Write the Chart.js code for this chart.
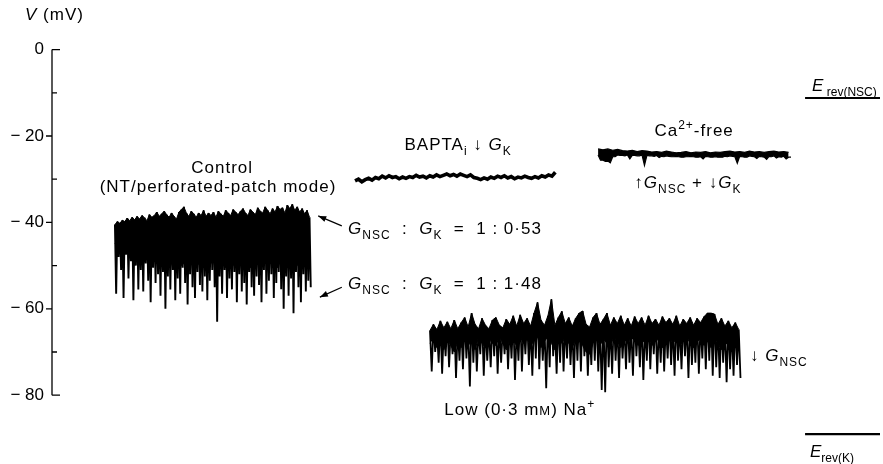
<!DOCTYPE html>
<html>
<head>
<meta charset="utf-8">
<title>Membrane potential traces</title>
<script src="https://cdn.jsdelivr.net/npm/chart.js@4.4.1/dist/chart.umd.min.js"></script>
<style>
    html, body { margin: 0; padding: 0; background: #fff; }
    #wrap { position: relative; width: 883px; height: 464px; }
</style>
</head>
<body>
<div id="wrap"><canvas id="trace-chart"></canvas></div>
<script>
// Voltage axis (mV)
const yTicks = [0, -10, -20, -30, -40, -50, -60, -70, -80];
const yLabels = ['0', '', '\u2212 20', '', '\u2212 40', '', '\u2212 60', '', '\u2212 80'];

// Control (NT / perforated-patch mode): peaks, bottom of the solid band, spike troughs (mV)
const ctrlStart = 15.2, ctrlStep = 0.595;
const ctrlTop = [-40.5, -39.8, -40.2, -39.5, -39.8, -39.0, -39.6, -38.8, -39.4, -38.6,
    -39.2, -38.4, -38.9, -39.6, -38.2, -38.8, -38.4, -37.6, -38.6, -38.0,
    -37.4, -38.2, -38.8, -37.8, -38.6, -39.2, -37.6, -37.0, -36.4, -37.8,
    -38.6, -37.4, -38.0, -38.8, -37.8, -38.4, -37.2, -38.6, -37.8, -38.4,
    -37.6, -38.8, -37.4, -38.0, -38.6, -37.2, -37.8, -38.4, -37.0, -37.6,
    -38.2, -37.4, -36.8, -37.8, -38.4, -37.0, -37.6, -38.2, -36.6, -37.4,
    -37.8, -36.4, -37.2, -38.0, -36.8, -37.6, -36.2, -37.0, -36.6, -37.8,
    -36.0, -36.8, -35.8, -37.2, -36.4, -37.6, -36.8, -38.0, -37.2, -38.8];
const ctrlCore = [-45.0, -44.0, -46.5, -45.0, -47.0, -44.5, -46.0, -47.5, -45.5, -46.5,
    -48.0, -46.5, -49.0, -47.5, -48.5, -49.5, -47.0, -48.5, -50.0, -48.0,
    -49.0, -50.5, -48.5, -49.5, -51.0, -49.0, -48.0, -50.0, -49.5, -48.5,
    -50.0, -49.0, -48.5, -50.5, -49.5, -48.0, -49.0, -50.0, -48.5, -49.5,
    -48.5, -50.0, -49.0, -48.0, -49.5, -50.5, -49.0, -48.5, -50.0, -49.0,
    -48.0, -49.5, -50.0, -48.5, -49.0, -50.5, -49.5, -48.0, -49.0, -50.0,
    -49.5, -48.5, -50.0, -49.0, -48.0, -49.5, -50.5, -49.0, -48.5, -49.5,
    -48.5, -49.5, -48.0, -49.0, -50.0, -48.5, -49.0, -48.0, -49.5, -47.5];
const ctrlLow = [-56.5, -48.0, -51.0, -57.5, -47.5, -53.0, -49.0, -58.0, -50.0, -55.5,
    -51.0, -56.0, -49.5, -53.5, -58.5, -50.5, -54.0, -52.0, -57.0, -51.5,
    -60.0, -52.5, -55.5, -51.0, -58.0, -53.0, -56.5, -50.5, -54.0, -59.0,
    -52.0, -55.0, -57.5, -51.5, -54.5, -56.0, -52.5, -58.0, -53.5, -51.0,
    -55.0, -63.0, -52.5, -56.5, -51.0, -57.5, -53.0, -55.5, -51.5, -58.5,
    -52.0, -56.0, -54.0, -59.0, -51.5, -55.0, -57.0, -52.5, -54.5, -58.5,
    -51.0, -56.5, -53.5, -52.0, -57.5, -54.0, -51.5, -55.5, -60.0, -52.5,
    -57.0, -53.0, -61.0, -51.5, -55.0, -58.5, -52.0, -56.0, -53.5, -55.0];

// BAPTA-loaded cell (mV)
const baptaStart = 73.2, baptaStep = 0.82;
const bapta = [-30.4, -30.0, -30.6, -30.1, -29.8, -30.2, -29.6, -29.9, -29.3, -29.7,
    -29.2, -29.6, -29.4, -29.9, -29.5, -29.8, -29.4, -29.6, -29.1, -29.5,
    -29.3, -29.7, -29.2, -29.5, -29.0, -29.4, -29.1, -28.8, -29.2, -28.9,
    -29.3, -28.8, -29.1, -29.4, -29.0, -29.6, -29.8, -30.1, -29.7, -30.0,
    -29.5, -29.8, -29.3, -29.6, -29.2, -29.7, -29.4, -29.9, -29.5, -29.7,
    -29.3, -29.6, -29.8, -29.4, -29.7, -29.2, -29.5, -29.0, -29.3, -28.4];

// Ca2+-free bath: top of the trace, bottom of the band, and dips between samples (mV)
const caStart = 131.9, caStep = 1.18;
const caTop = [-23.0, -23.2, -23.0, -23.3, -23.1, -23.4, -23.5, -23.3, -23.6, -23.4,
    -23.5, -23.7, -23.6, -23.8, -23.5, -23.7, -23.9, -23.8, -23.6, -23.9,
    -23.7, -23.8, -23.6, -23.9, -23.7, -23.8, -23.6, -23.5, -23.7, -23.6,
    -23.8, -23.5, -23.7, -23.6, -23.8, -23.6, -23.5, -23.7, -23.6, -23.8];
const caBand = [-24.4, -25.6, -25.8, -24.8, -24.4, -24.5, -24.4, -24.5, -24.6, -24.4,
    -24.5, -24.6, -24.5, -24.7, -24.6, -24.8, -24.7, -24.9, -24.8, -24.7,
    -24.9, -24.8, -24.7, -24.9, -24.8, -24.9, -24.7, -24.6, -24.8, -24.7,
    -24.9, -24.6, -24.8, -24.7, -24.9, -24.7, -24.6, -24.8, -24.7, -24.9];
const caDip = [-25.6, -25.9, -26.2, -24.8, -24.5, -24.6, -25.3, -24.5, -24.6, -26.8,
    -24.6, -24.7, -25.0, -24.8, -24.7, -24.8, -24.8, -24.9, -24.8, -24.8,
    -24.9, -25.3, -24.8, -24.9, -24.9, -24.9, -24.8, -24.7, -26.3, -24.8,
    -24.9, -24.7, -25.2, -24.8, -25.4, -24.8, -25.1, -24.9, -25.3, -24.9];

// Low (0.3 mM) Na+ (mV)
const naStart = 91.3, naStep = 0.838;
const naTop = [-65.0, -63.6, -64.8, -62.8, -64.4, -63.0, -64.6, -62.6, -64.6, -63.2,
    -62.0, -64.2, -61.0, -63.6, -64.6, -62.2, -63.8, -64.6, -62.6, -62.0,
    -63.8, -64.4, -62.4, -63.6, -61.6, -64.0, -61.4, -63.4, -62.2, -64.0,
    -61.0, -58.5, -62.6, -63.8, -61.6, -57.8, -63.8, -62.0, -60.6, -63.4,
    -62.0, -64.0, -62.2, -61.0, -60.5, -63.6, -64.2, -62.0, -61.0, -63.6,
    -62.4, -61.0, -63.8, -62.0, -63.4, -61.6, -63.8, -62.2, -64.0, -61.8,
    -63.4, -62.0, -63.8, -61.6, -63.4, -62.4, -63.8, -61.8, -63.2, -62.2,
    -63.6, -61.6, -64.0, -62.4, -63.4, -62.0, -63.8, -62.2, -63.2, -61.8,
    -61.0, -61.0, -61.2, -63.6, -62.2, -64.0, -62.8, -64.4, -63.2, -64.8];
const naCore = [-68.0, -66.5, -69.0, -67.5, -69.5, -67.0, -68.5, -70.0, -67.5, -69.0,
    -67.0, -68.5, -67.5, -69.5, -66.5, -68.0, -69.0, -67.0, -68.0, -68.5,
    -66.5, -68.0, -69.5, -67.0, -67.5, -68.5, -66.5, -68.0, -67.0, -68.5,
    -67.5, -66.5, -69.0, -67.5, -66.5, -68.0, -69.5, -67.0, -68.0, -66.5,
    -68.0, -69.0, -67.0, -67.5, -68.5, -70.0, -70.5, -68.0, -67.0, -68.5,
    -67.0, -68.0, -68.5, -66.5, -67.5, -69.0, -67.0, -68.0, -66.5, -67.5,
    -68.5, -67.0, -68.0, -66.5, -68.5, -67.5, -67.0, -69.0, -67.5, -66.5,
    -68.0, -67.0, -68.5, -67.5, -66.5, -68.0, -69.0, -67.5, -67.0, -68.5,
    -67.5, -69.0, -66.5, -68.0, -69.5, -68.5, -67.5, -70.0, -68.5, -69.5];
const naLow = [-74.5, -70.0, -72.5, -75.0, -71.0, -73.5, -70.5, -76.0, -72.0, -74.0,
    -71.5, -78.0, -72.5, -74.5, -70.5, -75.5, -72.0, -73.5, -71.0, -75.0,
    -72.5, -70.5, -74.0, -71.5, -76.5, -72.0, -74.5, -70.5, -73.0, -75.5,
    -71.5, -74.0, -72.0, -78.4, -73.5, -71.0, -75.0, -72.5, -74.5, -71.5,
    -73.0, -76.0, -72.0, -74.5, -71.0, -75.5, -73.0, -72.0, -74.5, -78.8,
    -79.3, -73.5, -75.0, -72.0, -76.0, -71.5, -74.0, -72.5, -75.5, -71.0,
    -73.5, -76.5, -72.0, -74.0, -70.5, -75.0, -72.5, -74.5, -71.5, -73.0,
    -75.5, -72.0, -74.0, -71.0, -76.0, -73.0, -72.5, -75.0, -71.5, -74.0,
    -72.0, -75.5, -73.5, -76.0, -72.5, -77.0, -74.0, -75.5, -73.0, -76.0];

// Reversal potentials (mV) and the time span of their markers (s)
const eRevNsc = -11.2;
const eRevK = -89.0;
const eRevSpan = [181.9, 200];

const FONT = '"Liberation Sans", Arial, Helvetica, sans-serif';

// Points sampled at a fixed interval
function sampled(values, start, step) {
    return values.map((v, i) => ({ x: start + i * step, y: v }));
}

// Alternate each sample with the value reached half a step later
function zigzag(first, second, start, step) {
    const pts = [];
    first.forEach((v, i) => {
        pts.push({ x: start + i * step, y: v });
        pts.push({ x: start + (i + 0.5) * step, y: second[i] });
    });
    return pts;
}

function lineSet(data, width, extra) {
    return Object.assign({
        data: data,
        borderColor: '#000',
        backgroundColor: '#000',
        borderWidth: width,
        pointRadius: 0,
        tension: 0,
        fill: false,
    }, extra || {});
}

const datasets = [
    lineSet(sampled(ctrlTop, ctrlStart, ctrlStep), 1),
    lineSet(sampled(ctrlCore, ctrlStart, ctrlStep), 1, { fill: '-1' }),
    lineSet(zigzag(ctrlTop, ctrlLow, ctrlStart, ctrlStep), 1.9),
    lineSet(sampled(bapta, baptaStart, baptaStep), 3.6),
    lineSet(sampled(caTop, caStart, caStep), 1.2),
    lineSet(zigzag(caBand, caDip, caStart, caStep), 1.2, { fill: '-1' }),
    lineSet(sampled(naTop, naStart, naStep), 1),
    lineSet(sampled(naCore, naStart, naStep), 1, { fill: '-1' }),
    lineSet(zigzag(naTop, naLow, naStart, naStep), 1.8),
    lineSet([{ x: eRevSpan[0], y: eRevNsc }, { x: eRevSpan[1], y: eRevNsc }], 2.2),
    lineSet([{ x: eRevSpan[0], y: eRevK }, { x: eRevSpan[1], y: eRevK }], 2.2),
];

// Text runs: [text, style] where style is '', 'i' (italic), 'sub', 'sup' or 'sc' (small capital)
const notes = [
    { x: 41.1, y: -28.6, align: 'center', runs: [['Control', '']] },
    { x: 40.1, y: -33.0, align: 'center', runs: [['(NT/perforated-patch mode)', '']] },
    { x: 71.5, y: -42.7, align: 'left', runs: [['G', 'i'], ['NSC', 'sub'], ['  :  ', ''], ['G', 'i'], ['K', 'sub'], ['  =  1 : 0\u00b753', '']] },
    { x: 71.5, y: -55.4, align: 'left', runs: [['G', 'i'], ['NSC', 'sub'], ['  :  ', ''], ['G', 'i'], ['K', 'sub'], ['  =  1 : 1\u00b748', '']] },
    { x: 98.1, y: -23.2, align: 'center', runs: [['BAPTA', ''], ['i', 'sub'], [' \u2193 ', ''], ['G', 'i'], ['K', 'sub']] },
    { x: 155.1, y: -20.0, align: 'center', runs: [['Ca', ''], ['2+', 'sup'], ['-free', '']] },
    { x: 153.6, y: -32.0, align: 'center', runs: [['\u2191', ''], ['G', 'i'], ['NSC', 'sub'], [' + \u2193', ''], ['G', 'i'], ['K', 'sub']] },
    { x: 168.6, y: -72.1, align: 'left', runs: [['\u2193 ', ''], ['G', 'i'], ['NSC', 'sub']] },
    { x: 113.0, y: -84.6, align: 'center', runs: [['Low (0\u00b73 m', ''], ['M', 'sc'], [') Na', ''], ['+', 'sup']] },
    { x: 183.6, y: -9.6, align: 'left', tight: true, runs: [['E', 'i'], [' rev(NSC)', 'sub']] },
    { x: 183.1, y: -94.3, align: 'left', tight: true, runs: [['E', 'i'], ['rev(K)', 'sub']] },
];

// Arrows from the ratio labels to the trace edges: [fromX, fromY, toX, toY]
const arrows = [
    [70.0, -40.8, 64.3, -38.5],
    [70.0, -55.0, 64.7, -57.3],
];

function runFont(style, size) {
    const small = style === 'sub' || style === 'sup';
    const px = small ? Math.round(size * 0.68) : style === 'sc' ? Math.round(size * 0.78) : size;
    return (style === 'i' ? 'italic ' : '') + px + 'px ' + FONT;
}

function drawRuns(ctx, runs, x, y, align, size) {
    let width = 0;
    runs.forEach(([t, st]) => {
        ctx.font = runFont(st, size);
        width += ctx.measureText(t).width;
    });
    let cx = align === 'center' ? x - width / 2 : x;
    runs.forEach(([t, st]) => {
        ctx.font = runFont(st, size);
        const dy = st === 'sub' ? size * 0.28 : st === 'sup' ? -size * 0.4 : 0;
        ctx.fillText(t, cx, y + dy);
        cx += ctx.measureText(t).width;
    });
}

// Axis line with outward major ticks and inward minor ticks, plus all annotations
const annotate = {
    id: 'annotate',
    afterDraw(chart) {
        const ctx = chart.ctx;
        const xs = chart.scales.x;
        const ys = chart.scales.y;
        const left = chart.chartArea.left;
        ctx.save();
        ctx.strokeStyle = '#000';
        ctx.fillStyle = '#000';
        ctx.lineWidth = 1.3;
        ctx.beginPath();
        ctx.moveTo(left, ys.getPixelForValue(yTicks[0]));
        ctx.lineTo(left, ys.getPixelForValue(yTicks[yTicks.length - 1]));
        yTicks.forEach((v, i) => {
            const py = ys.getPixelForValue(v);
            const ends = i === 0 || i === yTicks.length - 1;
            const major = yLabels[i] !== '';
            if (major && !ends) {
                ctx.moveTo(left - 6, py);
                ctx.lineTo(left, py);
            } else {
                ctx.moveTo(left, py);
                ctx.lineTo(left + (ends ? 8 : 5), py);
            }
        });
        ctx.stroke();

        ctx.textBaseline = 'alphabetic';
        ctx.textAlign = 'left';
        ctx.letterSpacing = '1px';
        drawRuns(ctx, [['V', 'i'], [' (mV)', '']], 25, ys.getPixelForValue(0) - 30, 'left', 17);
        notes.forEach(n => {
            ctx.letterSpacing = n.tight ? '0px' : '1px';
            drawRuns(ctx, n.runs, xs.getPixelForValue(n.x), ys.getPixelForValue(n.y), n.align, 17);
        });
        ctx.letterSpacing = '0px';

        ctx.lineWidth = 1.2;
        arrows.forEach(([x1, y1, x2, y2]) => {
            const ax = xs.getPixelForValue(x1), ay = ys.getPixelForValue(y1);
            const bx = xs.getPixelForValue(x2), by = ys.getPixelForValue(y2);
            const ang = Math.atan2(by - ay, bx - ax);
            ctx.beginPath();
            ctx.moveTo(ax, ay);
            ctx.lineTo(bx, by);
            ctx.stroke();
            ctx.beginPath();
            ctx.moveTo(bx, by);
            ctx.lineTo(bx - 8 * Math.cos(ang) + 3 * Math.sin(ang), by - 8 * Math.sin(ang) - 3 * Math.cos(ang));
            ctx.lineTo(bx - 8 * Math.cos(ang) - 3 * Math.sin(ang), by - 8 * Math.sin(ang) + 3 * Math.cos(ang));
            ctx.closePath();
            ctx.fill();
        });
        ctx.restore();
    },
};

new Chart(document.getElementById('trace-chart'), {
    type: 'line',
    data: { datasets: datasets },
    options: {
        responsive: true,
        maintainAspectRatio: false,
        animation: false,
        parsing: false,
        layout: { padding: { top: 28, right: 3, bottom: 4, left: 0 } },
        plugins: {
            legend: { display: false },
            tooltip: { enabled: false },
        },
        scales: {
            x: { type: 'linear', min: 0, max: 200, display: false },
            y: {
                type: 'linear',
                min: -95,
                max: 5,
                afterBuildTicks: (scale) => { scale.ticks = yTicks.map(v => ({ value: v })); },
                afterFit: (scale) => {
                    scale.width = 52;
                    // labels sit well inside the range, so no extra room is needed above or below
                    scale.paddingTop = 0;
                    scale.paddingBottom = 0;
                },
                grid: { display: false, drawTicks: false },
                border: { display: false },
                ticks: {
                    padding: 8,
                    color: '#000',
                    font: { family: FONT, size: 17 },
                    callback: (value) => yLabels[yTicks.indexOf(value)] || '',
                },
            },
        },
    },
    plugins: [annotate],
});
</script>
</body>
</html>
